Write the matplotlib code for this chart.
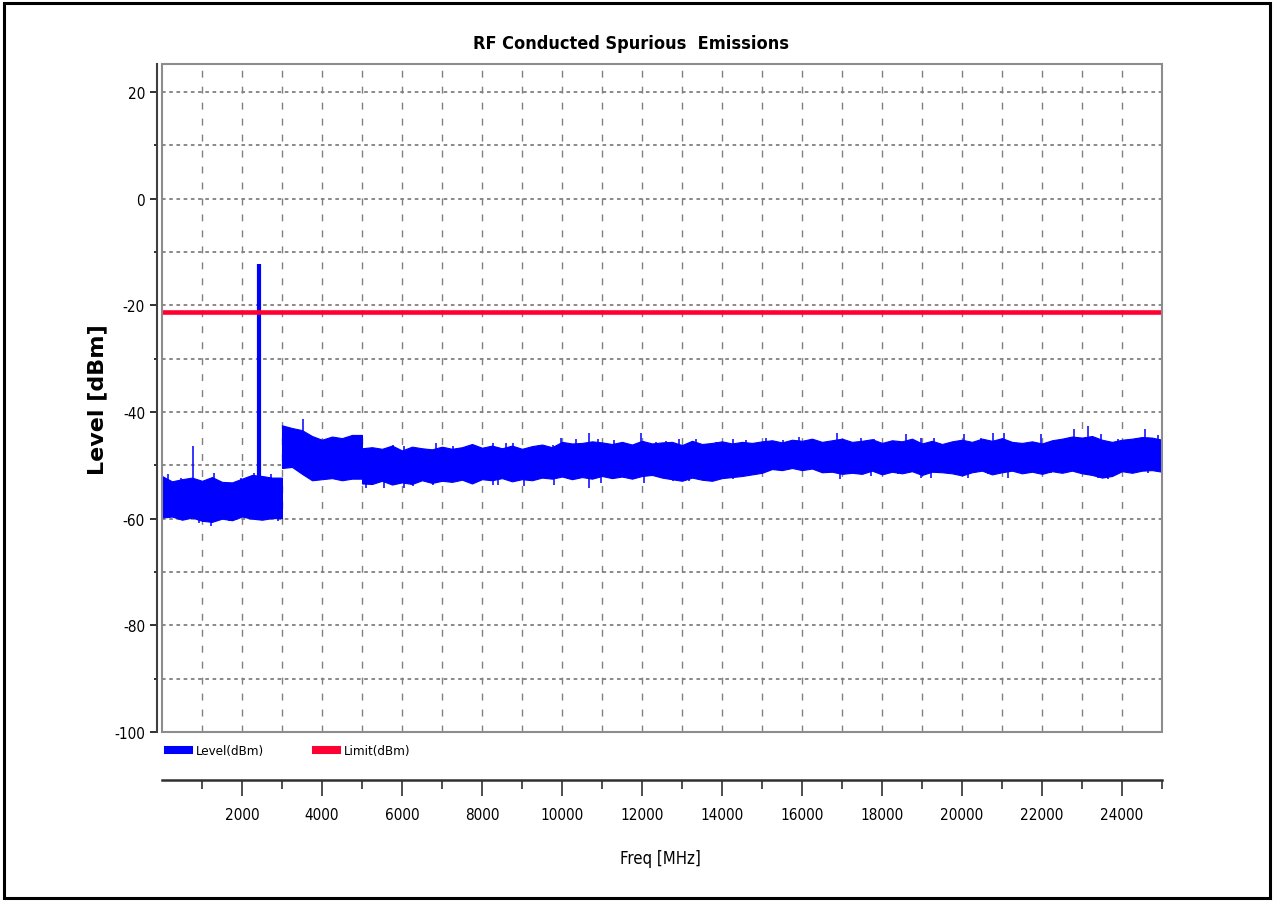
import numpy as np
import matplotlib.pyplot as plt
from matplotlib.lines import Line2D
from matplotlib.patches import Rectangle
from matplotlib.font_manager import FontProperties

plt.rcParams['axes.unicode_minus'] = False

def narrow(size, weight='normal'):
    return FontProperties(family='DejaVu Sans', stretch='condensed', size=size, weight=weight)

# sample grid of the trace envelope (MHz), 250 MHz steps
freq = np.arange(0, 25001, 250)

# upper / lower edge of the noise band (dBm)
level_top = [-52.0, -53.0, -52.6, -52.3, -52.9, -52.2, -53.1, -53.2, -52.5, -51.8, -52.0, -52.3,
             -42.5, -43.0, -43.4, -44.5, -45.2, -44.6, -44.9, -44.3,
             -46.8, -46.6, -46.9, -46.3, -47.2, -46.5, -46.8, -47.0, -46.5, -46.9, -46.6, -46.0,
             -46.7, -46.3, -46.8, -46.3, -46.9, -46.4, -46.1, -46.6, -45.6, -45.9, -45.8, -45.5,
             -45.7, -46.0, -45.6, -46.1, -45.4, -45.9, -45.7, -45.6, -46.2, -45.4, -46.0, -45.8,
             -45.5, -45.9, -45.6, -45.8, -45.5, -45.3, -45.7, -45.2, -45.4, -45.0, -45.6, -45.3,
             -45.0, -45.6, -45.4, -45.1, -45.8, -45.3, -45.5, -45.0, -45.9, -45.4, -46.0, -45.5,
             -45.2, -45.6, -45.0, -45.4, -44.9, -45.6, -45.8, -45.5, -45.9, -45.3, -45.0, -44.6,
             -44.8, -44.5, -45.2, -45.6, -45.2, -45.0, -44.7, -44.8, -45.2]
level_bot = [-59.8, -59.6, -60.2, -59.8, -60.4, -60.6, -60.0, -60.3, -59.6, -60.0, -60.2, -59.9,
             -50.5, -50.3, -51.6, -52.8, -52.6, -52.4, -52.8, -52.5,
             -53.4, -53.5, -52.9, -53.6, -53.2, -53.5, -52.8, -53.3, -52.9, -53.1, -52.7, -53.4,
             -52.6, -52.8, -52.4, -53.0, -52.6, -52.8, -52.3, -52.5, -52.1, -52.6, -52.2, -52.5,
             -52.0, -52.4, -52.1, -52.5, -52.0, -51.8, -52.3, -52.6, -52.9, -52.3, -52.7, -52.9,
             -52.4, -52.2, -52.0, -51.7, -51.4, -50.7, -50.9, -50.5, -50.9, -50.6, -51.3, -51.2,
             -51.6, -51.4, -51.6, -51.0, -51.7, -51.2, -51.5, -51.1, -51.8, -51.2, -51.3, -51.5,
             -51.9, -51.3, -51.0, -51.7, -51.3, -51.0, -51.5, -51.2, -51.6, -51.1, -51.4, -51.0,
             -51.5, -51.8, -52.3, -52.0, -51.1, -51.4, -51.0, -50.9, -51.2]

# the trace jumps at these sample indices (3000 and 5000 MHz)
jumps = [12, 20]

# narrow peaks sticking out above the band
spike_freq = [142, 475, 775, 1308, 1975, 2308, 2725, 3520,
              5100, 5767, 6058, 6850, 7267, 7767, 8267, 8600, 8767, 9767, 9975, 10350,
              10683, 10892, 11308, 11975, 12350, 12600, 12933, 13350, 13850, 14267, 14600,
              15100, 15517, 15933, 16267, 16870, 17475, 17808, 18600, 18975, 19308, 20058,
              20475, 20767, 21060, 21975, 22808, 23142, 23475, 23892, 24583, 24892]
spike_top = [-51.7, -52.3, -46.4, -51.4, -52.3, -51.4, -51.7, -41.4,
             -46.7, -46.1, -46.4, -45.8, -46.4, -46.1, -45.9, -45.8, -45.9, -46.1, -44.9, -45.1,
             -43.9, -45.0, -45.3, -43.9, -45.6, -45.5, -45.0, -45.1, -45.6, -45.1, -45.3,
             -44.8, -45.3, -44.6, -45.1, -43.9, -44.8, -45.0, -44.2, -44.8, -44.8, -44.2,
             -44.8, -43.9, -43.9, -44.2, -43.2, -42.6, -44.2, -45.1, -43.1, -44.4]
# narrow dips below the band
dip_freq = [142, 933, 1225, 1683, 2392, 2892,
            5100, 5558, 6058, 6267, 6767, 7767, 8267, 8392, 9058, 9808, 10667, 10975, 11558,
            12058, 12767, 13183, 13683, 14267, 15183, 16017, 16517, 16950, 17725, 18392,
            18975, 19225, 20142, 20642, 21142, 22225, 23392, 23642, 24642]
dip_bottom = [-59.8, -60.8, -61.4, -60.4, -60.1, -60.4,
              -54.2, -54.2, -54.2, -53.9, -53.6, -53.3, -53.6, -53.6, -53.8, -53.6, -54.2, -53.3, -52.3,
              -53.3, -52.9, -52.9, -52.9, -52.6, -51.1, -50.8, -51.4, -52.6, -52.0, -51.7,
              -52.3, -52.3, -52.3, -51.7, -52.3, -51.4, -52.3, -52.6, -51.4]
carrier_freq = 2430
carrier_top = -12.3

limit = -21.25

fig = plt.figure(figsize=(12.73, 9.04), dpi=100)
ax = fig.add_axes([162/1273, 1 - 733/904, 1000/1273, 668/904])

top = np.array(level_top)
bot = np.array(level_bot)
edges = [0] + jumps + [len(freq)]
for a, b in zip(edges[:-1], edges[1:]):
    # hold the last reading up to the jump so the step is vertical
    x = freq[a:b]
    lo, hi = bot[a:b], top[a:b]
    if b < len(freq):
        x = np.append(x, freq[b] - 1)
        lo = np.append(lo, bot[b - 1])
        hi = np.append(hi, top[b - 1])
    ax.fill_between(x, lo, hi, color='#0000ff', lw=0.8, edgecolor='#0000ff', zorder=3)

# spikes and dips start from the middle of the band at their sample
mid = (top + bot) / 2
spike_base = mid[np.searchsorted(freq, spike_freq, side='right') - 1]
dip_base = mid[np.searchsorted(freq, dip_freq, side='right') - 1]
ax.vlines(spike_freq, spike_base, spike_top, color='#0000ff', lw=1.1, zorder=3)
ax.vlines(dip_freq, dip_base, dip_bottom, color='#0000ff', lw=1.1, zorder=3)
ax.vlines(carrier_freq, -54, carrier_top, color='#0000ff', lw=3, zorder=3)
ax.axhline(limit, color='#ff0033', lw=3.3, zorder=4)

ax.set_xlim(0, 25000)
ax.set_ylim(-100, 25.25)

ax.set_xticks(range(2000, 25000, 2000))
ax.set_xticks(range(1000, 25001, 2000), minor=True)
ax.set_yticks(range(-100, 21, 20))
ax.set_yticks(range(-90, 21, 20), minor=True)

ax.grid(which='both', axis='y', ls=(0, (2, 2)), color='#808080', lw=1.3, zorder=1)
ax.grid(which='both', axis='x', ls=(0, (5, 6.5)), color='#808080', lw=1.0, zorder=1)

for s in ['top', 'right']:
    ax.spines[s].set_visible(False)
ax.spines['left'].set_position(('outward', 3.6))
ax.spines['bottom'].set_position(('outward', 34.6))
ax.spines['left'].set_color('#404040')
ax.spines['bottom'].set_color('#303030')
ax.spines['left'].set_linewidth(1.5)
ax.spines['bottom'].set_linewidth(1.8)

ax.tick_params(axis='y', which='major', length=5, width=1.4, pad=3.6, color='#303030')
ax.tick_params(axis='y', which='minor', length=2, width=1.4, color='#303030')
ax.tick_params(axis='x', which='major', length=11.5, width=1.2, pad=8, color='#303030')
ax.tick_params(axis='x', which='minor', length=6.5, width=1.2, color='#303030')
for lab in ax.get_xticklabels() + ax.get_yticklabels():
    lab.set_fontproperties(narrow(11))

ax.add_patch(Rectangle((0, 0), 1, 1, transform=ax.transAxes, fill=False,
                       ec='#8c8c8c', lw=1.5, clip_on=False, zorder=6))

ax.set_xlabel("Freq [MHz]", fontproperties=narrow(12))
ax.xaxis.set_label_coords(0.498, -0.175)
ax.set_ylabel("Level [dBm]", family='DejaVu Sans', fontweight='bold', fontsize=16)
ax.yaxis.set_label_coords(-0.055, 0.4985)

fig.text(631/1273, 1 - 44/904, "RF Conducted Spurious  Emissions",
         fontproperties=narrow(13, 'bold'), ha='center', va='center')

handles = [Line2D([], [], color='#0000ff', lw=5.8), Line2D([], [], color='#ff0033', lw=5.8)]
ax.legend(handles, ["Level(dBm)", "Limit(dBm)"], ncol=2, loc='center left',
          bbox_to_anchor=(0.006, -0.0284), frameon=False, borderpad=0, borderaxespad=0,
          handlelength=1.59, handletextpad=0.53, columnspacing=3.9,
          prop=narrow(9.5))

fig.patches.append(Rectangle((4/1273, 5/904), 1266/1273, 895/904, transform=fig.transFigure,
                             fill=False, ec='black', lw=2.2))

fig.savefig("out.png", dpi=100)
